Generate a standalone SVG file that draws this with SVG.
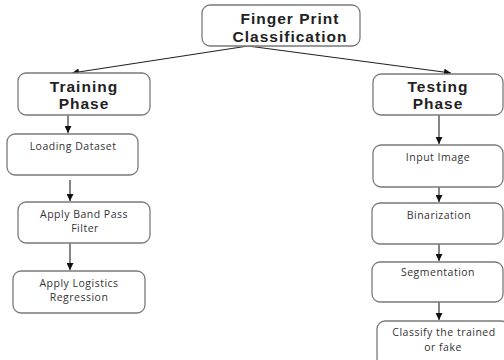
<svg xmlns="http://www.w3.org/2000/svg" width="504" height="360" viewBox="0 0 504 360">
<defs>
<marker id="ah" viewBox="0 0 10 10" refX="10" refY="5" markerWidth="7" markerHeight="7" markerUnits="userSpaceOnUse" orient="auto">
<path d="M0,0 L10,5 L0,10 z" fill="#111"/>
</marker>
<style>
.box{fill:#fff;stroke:#7a7a7a;stroke-width:1.3}
.hd{font-family:"Liberation Sans",Arial,sans-serif;font-weight:bold;font-size:15.5px;letter-spacing:1px;fill:#222;text-anchor:middle}
.tx{font-family:"Open Sans","Liberation Sans",sans-serif;font-size:10.5px;letter-spacing:0.5px;fill:#333;text-anchor:middle}
.cn{stroke:#222;stroke-width:1.1;fill:none;marker-end:url(#ah)}
</style>
</defs>
<rect width="504" height="360" fill="#fff"/>
<g id="connectors">
<line class="cn" x1="248" y1="46" x2="72" y2="73"/>
<line class="cn" x1="248" y1="46" x2="451" y2="73"/>
<line class="cn" x1="68" y1="115" x2="68" y2="133"/>
<line class="cn" x1="70" y1="180" x2="70" y2="201"/>
<line class="cn" x1="70" y1="243" x2="70" y2="270"/>
<line class="cn" x1="439" y1="115" x2="439" y2="144"/>
<line class="cn" x1="439" y1="187" x2="439" y2="202"/>
<line class="cn" x1="439" y1="244" x2="439" y2="261"/>
<line class="cn" x1="439" y1="302" x2="439" y2="320"/>
</g>
<g id="title">
<rect class="box" x="202" y="5" width="158" height="41" rx="8"/>
<text class="hd" x="290" y="24">Finger Print</text>
<text class="hd" x="290" y="42">Classification</text>
</g>
<g id="training">
<rect class="box" x="18" y="73" width="132" height="42" rx="8"/>
<text class="hd" x="84" y="92">Training</text>
<text class="hd" x="84" y="109">Phase</text>
</g>
<g id="loading">
<rect class="box" x="7" y="134" width="131" height="41" rx="8"/>
<text class="tx" x="73" y="150">Loading Dataset</text>
</g>
<g id="bandpass">
<rect class="box" x="18" y="202" width="132" height="41" rx="8"/>
<text class="tx" x="84" y="218">Apply Band Pass</text>
<text class="tx" x="85" y="232">Filter</text>
</g>
<g id="logistics">
<rect class="box" x="13" y="271" width="132" height="42" rx="8"/>
<text class="tx" x="79" y="287">Apply Logistics</text>
<text class="tx" x="79" y="301">Regression</text>
</g>
<g id="testing">
<rect class="box" x="373" y="74" width="130" height="41" rx="8"/>
<text class="hd" x="438" y="92">Testing</text>
<text class="hd" x="438" y="109">Phase</text>
</g>
<g id="input">
<rect class="box" x="373" y="145" width="130" height="42" rx="8"/>
<text class="tx" x="438" y="161">Input Image</text>
</g>
<g id="binarization">
<rect class="box" x="372" y="203" width="131" height="41" rx="8"/>
<text class="tx" x="439" y="219">Binarization</text>
</g>
<g id="segmentation">
<rect class="box" x="372" y="262" width="131" height="40" rx="8"/>
<text class="tx" x="438" y="276">Segmentation</text>
</g>
<g id="classify">
<rect class="box" x="377" y="321" width="132" height="45" rx="8"/>
<text class="tx" x="444" y="336">Classify the trained</text>
<text class="tx" x="443" y="351">or fake</text>
</g>
</svg>
